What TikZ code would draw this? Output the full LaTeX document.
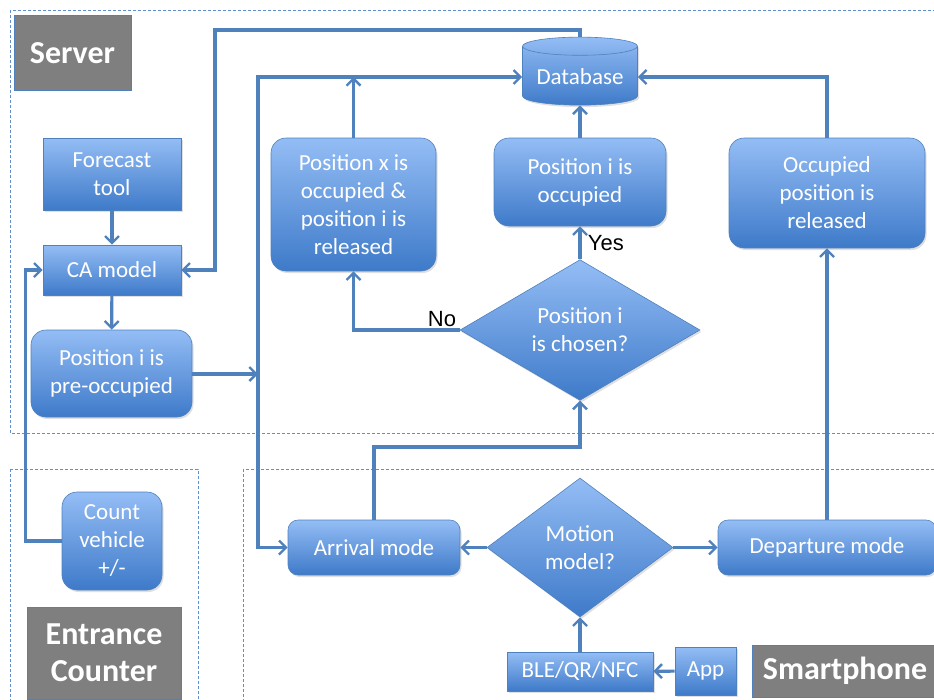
\documentclass[tikz,border=0pt]{standalone}
\usepackage{fontspec}
\setmainfont{Carlito}
\newfontfamily\arialfont{Liberation Sans}
\usetikzlibrary{shapes.geometric,arrows.meta,shadows}

\definecolor{boxtop}{RGB}{148,189,245}
\definecolor{boxbot}{RGB}{62,122,201}
\definecolor{boxline}{RGB}{79,129,189}
\definecolor{zoneline}{RGB}{96,143,204}
\definecolor{labelgray}{RGB}{127,127,127}

\tikzset{
  blockbox/.style={draw=boxline, line width=0.6pt, top color=boxtop, bottom color=boxbot,
    text=white, align=center, inner sep=2pt, font=\fontsize{23}{28}\selectfont,
    drop shadow={shadow xshift=1.5pt, shadow yshift=-2pt, opacity=0.25}},
  roundbox/.style={blockbox, rounded corners=#1},
  roundbox/.default=15pt,
  decisionbox/.style={blockbox, diamond, inner sep=0pt},
  labelbox/.style={draw=boxline, line width=0.6pt, fill=labelgray, text=white, align=center,
    font=\fontsize{32}{37}\selectfont\bfseries},
  zonebox/.style={draw=zoneline, line width=0.9pt, dash pattern=on 3pt off 2pt},
  conn/.style={draw=boxline, line width=3.2pt,
    arrows={-Straight Barb[length=7pt, width=14pt, line width=2.4pt]}},
  twoway/.style={conn, arrows={Straight Barb[length=7pt, width=14pt, line width=2.4pt]-Straight Barb[length=7pt, width=14pt, line width=2.4pt]}},
}

\begin{document}
\begin{tikzpicture}[x=1pt, y=1pt]

  \useasboundingbox (0,0) rectangle (934,-699);

  % zones
  \draw[zonebox] (10,-10) rectangle (980,-433);
  \draw[zonebox] (10,-469) rectangle (198,-740);
  \draw[zonebox] (243,-469) rectangle (980,-740);

  % zone labels
  \node[labelbox, minimum width=117pt, minimum height=75pt] (server) at (72.5,-53) {Server};
  \node[labelbox, minimum width=154pt, minimum height=92pt] (entrance) at (104,-653) {Entrance\\Counter};
  \node[labelbox, minimum width=186pt, minimum height=52pt] (smartphone) at (845,-671) {Smartphone};

  % server side
  \node[blockbox, minimum width=138pt, minimum height=72pt] (forecast) at (112,-174) {Forecast\\tool};
  \node[blockbox, minimum width=138pt, minimum height=50pt] (camodel) at (112,-270) {CA model};
  \node[roundbox, minimum width=161pt, minimum height=87pt] (preocc) at (111.5,-373.5) {Position i is\\pre-occupied};
  \node[blockbox, cylinder, shape border rotate=90, aspect=0.2, rounded corners=0pt,
        minimum width=115pt, minimum height=68pt] (database) at (580,-77) {Database};
  \node[roundbox, minimum width=165pt, minimum height=133pt] (posx) at (353.5,-204.5) {Position x is\\occupied \&\\position i is\\released};
  \node[roundbox, minimum width=172pt, minimum height=88pt] (posiocc) at (580,-182) {Position i is\\occupied};
  \node[decisionbox, minimum width=240pt, minimum height=137pt] (chosen) at (580,-330) {Position i\\is chosen?};
  \node[roundbox, minimum width=196pt, minimum height=110pt] (released) at (827,-193) {Occupied\\position is\\released};

  % entrance counter
  \node[roundbox, minimum width=100pt, minimum height=98pt] (count) at (112,-541) {Count\\vehicle\\+/-};

  % smartphone
  \node[roundbox=10pt, minimum width=172pt, minimum height=55pt] (arrival) at (374,-547.5) {Arrival mode};
  \node[decisionbox, minimum width=186pt, minimum height=139pt] (motion) at (580,-547.5) {Motion\\model?};
  \node[roundbox=10pt, minimum width=218pt, minimum height=55pt] (departure) at (827,-547.5) {Departure mode};
  \node[blockbox, minimum width=146pt, minimum height=39pt] (ble) at (580,-671.5) {BLE/QR/NFC};
  \node[blockbox, minimum width=61pt, minimum height=48pt] (app) at (705.5,-671) {App};

  \coordinate (junc) at (258,-374);
  \coordinate (topbend) at (215,-30);
  \coordinate (arrbend) at (580,-447);

  % connectors
  \draw[conn] (forecast) -- (camodel);
  \draw[conn] (camodel) -- (preocc);
  \draw[conn] (count.west) -- ++(-36,0) |- (camodel.west);
  \draw[conn] (preocc.east |- junc) -- (junc);
  \draw[twoway] (database.west) -| (junc) |- (arrival.west);
  \draw[conn] (posx.north) -- (posx.north |- database.west);
  \draw[conn] (database.north) |- (topbend) |- (camodel.east);
  \draw[conn] (posiocc) -- (database);
  \draw[conn] (chosen.north) -- node[right=3pt, text=black, font=\arialfont\fontsize{22}{26}\selectfont] {Yes} (posiocc.south);
  \draw[conn] (chosen.west) node[anchor=south east, inner sep=2pt, text=black, font=\arialfont\fontsize{22}{26}\selectfont] {No} -| (posx.south);
  \draw[conn] (arrival.north) |- (arrbend) -- (chosen.south);
  \draw[conn] (motion.west) -- (arrival.east);
  \draw[conn] (motion.east) -- (departure.west);
  \draw[conn] (departure.north -| released.south) -- (released.south);
  \draw[conn] (released.north) |- (database.east);
  \draw[conn] (app) -- (ble);
  \draw[conn] (ble) -- (motion.south);

\end{tikzpicture}
\end{document}
